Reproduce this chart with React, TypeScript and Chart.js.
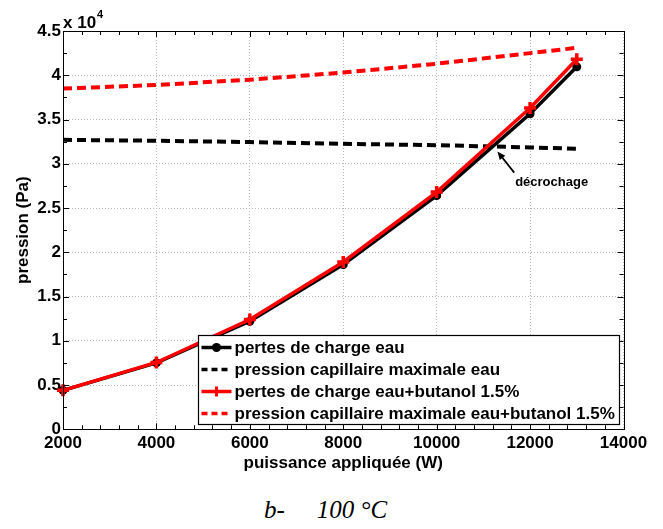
import React, { useEffect, useRef } from "react";
import { Chart, registerables } from "chart.js";

Chart.register(...registerables);

// ---- data (values in Pa) ----
const powers = [2000, 4000, 6000, 8000, 10000, 12000, 13000];
const pertesEau = [4400, 7500, 12200, 18600, 26400, 35650, 40950];
const capEau = [32700, 32600, 32450, 32250, 32100, 31850, 31700];
const pertesButanol = [4400, 7550, 12400, 18900, 26800, 36300, 41800];
const capButanol = [38500, 38900, 39500, 40300, 41300, 42500, 43100];

const seriesNames = [
  "pertes de charge eau",
  "pression capillaire maximale eau",
  "pertes de charge eau+butanol 1.5%",
  "pression capillaire maximale eau+butanol 1.5%",
];

const xMin = 2000;
const xMax = 14000;
const xStep = 2000;
const xMinorStep = 400;
const yMin = 0;
const yMax = 45000;
const yStep = 5000;
const yMinorStep = 2500;
const yMultiplier = 1e4;

const xTitle = "puissance appliquée (W)";
const yTitle = "pression (Pa)";
const annotationText = "décrochage";
const annotationTip = [11300, 31400];
const annotationTail = [11660, 29000];
const annotationLabel = [11680, 27900];
const caption = ["b-", "100 °C"];

const FONT = '"Liberation Sans", Arial, Helvetica, sans-serif';

function drawSample(ctx: CanvasRenderingContext2D, i: number, x0: number, x1: number, y: number) {
  const color = i < 2 ? "#000000" : "#ff0000";
  const dashed = i % 2 === 1;
  ctx.save();
  ctx.strokeStyle = color;
  ctx.fillStyle = color;
  ctx.lineWidth = dashed ? 3.5 : 3.5;
  ctx.setLineDash(dashed ? [6, 4] : []);
  ctx.beginPath();
  ctx.moveTo(x0, y);
  ctx.lineTo(x1, y);
  ctx.stroke();
  ctx.setLineDash([]);
  const cx = (x0 + x1) / 2;
  if (i === 0) {
    ctx.beginPath();
    ctx.arc(cx, y, 4.5, 0, Math.PI * 2);
    ctx.fill();
  } else if (i === 2) {
    ctx.lineWidth = 3;
    ctx.beginPath();
    ctx.moveTo(cx - 5, y);
    ctx.lineTo(cx + 5, y);
    ctx.moveTo(cx, y - 5);
    ctx.lineTo(cx, y + 5);
    ctx.stroke();
  }
  ctx.restore();
}

const matlabPlugin = {
  id: "matlabDecor",
  afterDatasetsDraw(chart: any) {
    const { ctx, chartArea: a, scales } = chart;
    const xs = scales.x;
    const ys = scales.y;
    ctx.save();
    ctx.strokeStyle = "#000";
    ctx.lineWidth = 1;
    ctx.setLineDash([]);
    ctx.strokeRect(Math.round(a.left) + 0.5, Math.round(a.top) + 0.5, Math.round(a.right - a.left), Math.round(a.bottom - a.top));
    ctx.beginPath();
    for (let v = xMin; v <= xMax; v += xMinorStep) {
      const px = Math.round(xs.getPixelForValue(v)) + 0.5;
      const len = v % xStep === 0 ? 6 : 4;
      ctx.moveTo(px, a.bottom);
      ctx.lineTo(px, a.bottom - len);
      ctx.moveTo(px, a.top);
      ctx.lineTo(px, a.top + len);
    }
    for (let v = yMin; v <= yMax; v += yMinorStep) {
      const py = Math.round(ys.getPixelForValue(v)) + 0.5;
      const len = v % yStep === 0 ? 6 : 4;
      ctx.moveTo(a.left, py);
      ctx.lineTo(a.left + len, py);
      ctx.moveTo(a.right, py);
      ctx.lineTo(a.right - len, py);
    }
    ctx.stroke();
    ctx.restore();
  },
  afterDraw(chart: any) {
    const { ctx, chartArea: a, scales } = chart;
    const xs = scales.x;
    const ys = scales.y;
    ctx.save();

    // multiplier label
    ctx.fillStyle = "#000";
    ctx.textBaseline = "middle";
    ctx.textAlign = "left";
    ctx.font = `bold 17px ${FONT}`;
    const mult = "x 10";
    ctx.fillText(mult, a.left, a.top - 8);
    const mw = ctx.measureText(mult).width;
    ctx.font = `bold 11px ${FONT}`;
    ctx.fillText(String(Math.log10(yMultiplier)), a.left + mw + 1, a.top - 16);

    // annotation arrow
    const tx = xs.getPixelForValue(annotationTip[0]);
    const ty = ys.getPixelForValue(annotationTip[1]);
    const sx = xs.getPixelForValue(annotationTail[0]);
    const sy = ys.getPixelForValue(annotationTail[1]);
    const ang = Math.atan2(ty - sy, tx - sx);
    ctx.strokeStyle = "#000";
    ctx.lineWidth = 1.8;
    ctx.beginPath();
    ctx.moveTo(sx, sy);
    ctx.lineTo(tx - Math.cos(ang) * 4, ty - Math.sin(ang) * 4);
    ctx.stroke();
    ctx.beginPath();
    ctx.moveTo(tx, ty);
    ctx.lineTo(tx - 9 * Math.cos(ang - 0.4), ty - 9 * Math.sin(ang - 0.4));
    ctx.lineTo(tx - 9 * Math.cos(ang + 0.4), ty - 9 * Math.sin(ang + 0.4));
    ctx.closePath();
    ctx.fill();
    ctx.font = `bold 13px ${FONT}`;
    ctx.textBaseline = "middle";
    ctx.fillText(annotationText, xs.getPixelForValue(annotationLabel[0]), ys.getPixelForValue(annotationLabel[1]));

    // legend
    ctx.font = `bold 17px ${FONT}`;
    let maxW = 0;
    seriesNames.forEach((n) => (maxW = Math.max(maxW, ctx.measureText(n).width)));
    const rowH = 22;
    const boxW = Math.round(36 + maxW + 5);
    const boxH = rowH * seriesNames.length + 1;
    const bx = Math.round(a.right - 5 - boxW) + 0.5;
    const by = Math.round(a.bottom - 5 - boxH) + 0.5;
    ctx.fillStyle = "#fff";
    ctx.fillRect(bx, by, boxW, boxH);
    ctx.strokeStyle = "#000";
    ctx.lineWidth = 1.2;
    ctx.strokeRect(bx, by, boxW, boxH);
    seriesNames.forEach((n, i) => {
      const cy = by + 12 + i * rowH;
      drawSample(ctx, i, bx + 3, bx + 33, cy);
      ctx.fillStyle = "#000";
      ctx.textBaseline = "middle";
      ctx.fillText(n, bx + 36, cy + 1);
    });
    ctx.restore();
  },
};

export default function App() {
  const ref = useRef<HTMLCanvasElement | null>(null);
  useEffect(() => {
    if (!ref.current) return;
    const mk = (d: number[]) => powers.map((p, i) => ({ x: p, y: d[i] }));
    const chart = new Chart(ref.current, {
      type: "line",
      data: {
        datasets: [
          {
            label: seriesNames[2],
            data: mk(pertesButanol),
            borderColor: "#ff0000",
            backgroundColor: "#ff0000",
            borderWidth: 3.5,
            pointStyle: "cross",
            pointRadius: 6,
            pointBorderWidth: 3.5,
            pointBorderColor: "#ff0000",
            clip: false,
          },
          {
            label: seriesNames[0],
            data: mk(pertesEau),
            borderColor: "#000000",
            backgroundColor: "#000000",
            borderWidth: 3.5,
            pointStyle: "circle",
            pointRadius: 4.5,
            pointBorderWidth: 0,
            pointBackgroundColor: "#000000",
            clip: false,
          },
          {
            label: seriesNames[3],
            data: mk(capButanol),
            borderColor: "#ff0000",
            borderWidth: 4,
            borderDash: [9, 5],
            pointRadius: 0,
            clip: false,
          },
          {
            label: seriesNames[1],
            data: mk(capEau),
            borderColor: "#000000",
            borderWidth: 4,
            borderDash: [9, 5],
            pointRadius: 0,
            clip: false,
          },
        ] as any,
      },
      options: {
        animation: false,
        responsive: false,
        maintainAspectRatio: false,
        layout: { padding: { left: 0, right: 39.5, top: 31, bottom: 5.7 } },
        plugins: { legend: { display: false }, tooltip: { enabled: false } },
        elements: { line: { tension: 0 } },
        scales: {
          x: {
            type: "linear",
            min: xMin,
            max: xMax,
            afterFit: (s: any) => {
              s.height = 45;
            },
            ticks: {
              stepSize: xStep,
              padding: 4,
              color: "#000",
              font: { family: FONT, size: 17, weight: "bold" },
              callback: (v: any) => String(v),
              maxRotation: 0,
              autoSkip: false,
            },
            grid: { color: "#b8b8b8", lineWidth: 1, drawTicks: false },
            border: { display: false, dash: [1, 2] },
            title: {
              display: true,
              text: xTitle,
              color: "#000",
              font: { family: FONT, size: 17, weight: "bold" },
              padding: { top: 1, bottom: 1 },
            },
          },
          y: {
            type: "linear",
            min: yMin,
            max: yMax,
            afterFit: (s: any) => {
              s.width = 63;
            },
            ticks: {
              stepSize: yStep,
              padding: 2,
              color: "#000",
              font: { family: FONT, size: 17, weight: "bold" },
              callback: (v: any) => String(Number(v) / yMultiplier),
            },
            grid: { color: "#b8b8b8", lineWidth: 1, drawTicks: false },
            border: { display: false, dash: [1, 2] },
            title: {
              display: true,
              text: yTitle,
              color: "#000",
              font: { family: FONT, size: 17, weight: "bold" },
              padding: { top: 13, bottom: 13 },
            },
          },
        },
      } as any,
      plugins: [matlabPlugin],
    });
    return () => chart.destroy();
  }, []);

  return (
    <div style={{ position: "absolute", left: 0, top: 0, width: 663, height: 529, background: "#fff" }}>
      <canvas ref={ref} width={663} height={480} style={{ position: "absolute", left: 0, top: 0, width: 663, height: 480 }} />
      <div
        style={{
          position: "absolute",
          left: 264,
          top: 497,
          fontFamily: '"Liberation Serif", "Times New Roman", serif',
          fontStyle: "italic",
          fontSize: 25,
          lineHeight: "25px",
          whiteSpace: "pre",
          color: "#000",
        }}
      >
        <span>{caption[0]}</span>
        <span style={{ marginLeft: 32 }}>{caption[1]}</span>
      </div>
    </div>
  );
}
